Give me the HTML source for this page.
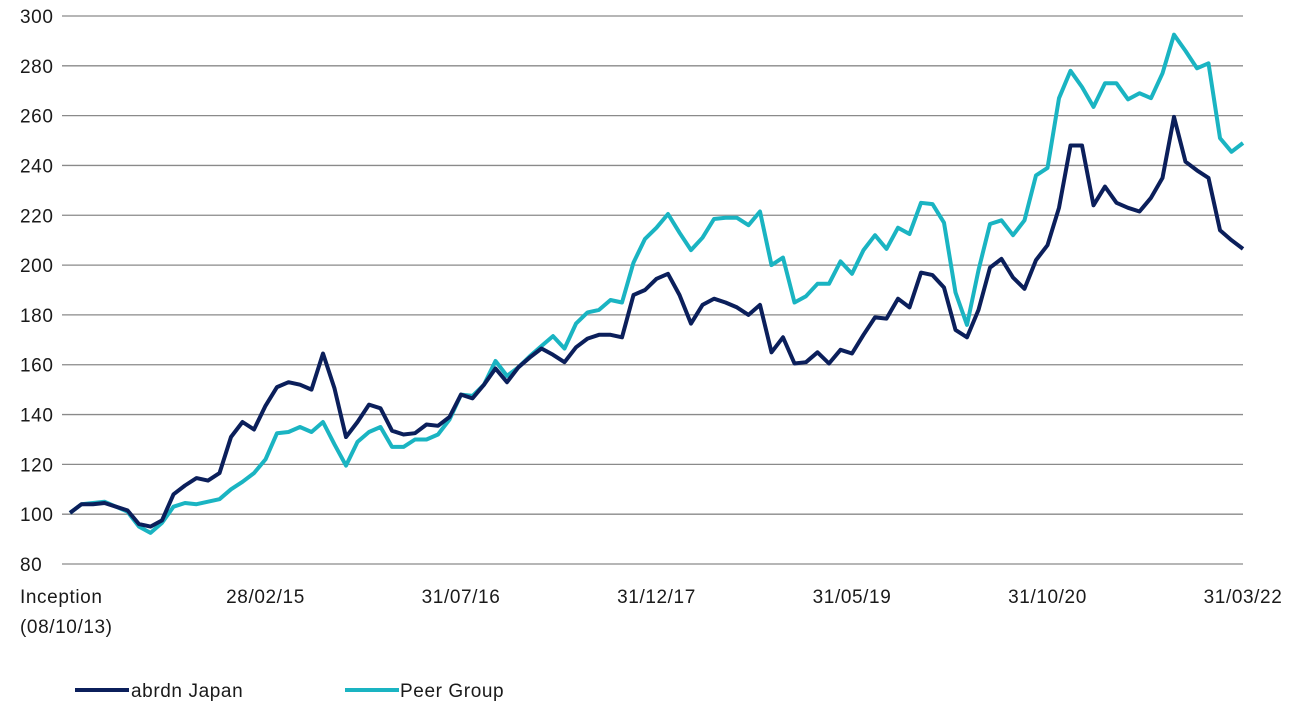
<!DOCTYPE html>
<html><head><meta charset="utf-8"><style>
body{margin:0;background:#fff;}
svg text{font-family:"Liberation Sans",sans-serif;font-size:19px;letter-spacing:0.6px;fill:#1a1a1a;}
</style></head><body>
<svg id="chart" width="1294" height="701" viewBox="0 0 1294 701" xmlns="http://www.w3.org/2000/svg">
<g id="grid"></g>
<g id="yticks"></g>
<g id="xticks"></g>
<g id="series"></g>
<g>
<line x1="75" y1="690" x2="129" y2="690" stroke="#0b1f5b" stroke-width="4"/>
<text x="131" y="697">abrdn Japan</text>
<line x1="345" y1="690" x2="399" y2="690" stroke="#1ab4c2" stroke-width="4"/>
<text x="400" y="697">Peer Group</text>
</g>
</svg>
<script>
const yTicks=[80,100,120,140,160,180,200,220,240,260,280,300];
const xLabels=["Inception","28/02/15","31/07/16","31/12/17","31/05/19","31/10/20","31/03/22"];
const xLabelIdx=[0,17,34,51,68,85,102];
const abrdnJapan=[100.5,104,104,104.5,103,101.5,96,95,97.5,108,111.5,114.5,113.5,116.5,131,137,134,143.5,151,153,152,150,164.5,150.5,131,137,144,142.5,133.5,132,132.5,136,135.5,139,148,
146.5,152,158.5,153,159,163,166.5,164,161,167,170.5,172,172,171,188,190,194.5,196.5,188,176.5,184,186.5,185,183,180,184,165,171,160.5,161,165,160.5,166,164.5,
172,179,178.5,186.5,183,197,196,191,174,171,182,199,202.5,195,190.5,202,208,223,248,248,224,231.5,225,223,221.5,227,235,259.5,241.5,238,235,214,210,206.5];
const peerGroup=[100.5,104,104.5,105,103,101,95,92.5,96.5,103,104.5,104,105,106,110,113,116.5,122,132.5,133,135,133,137,128,119.5,129,133,135,127,127,130,130,132,138,148,
147.5,152,161.5,155.5,159,163.5,167.5,171.5,166.5,176.5,181,182,186,185,201,210.5,215,220.5,213,206,211,218.5,219,219,216,221.5,200,203,185,187.5,192.5,192.5,201.5,196.5,
206,212,206.5,215,212.5,225,224.5,217,189,176,198,216.5,218,212,218,236,239,267,278,271.5,263.5,273,273,266.5,269,267,277,292.5,286,279,281,251,245.5,249];
const NS="http://www.w3.org/2000/svg";
const X0=70,X1=1243,Y0=564,Y1=16,VMIN=80,VMAX=300;
const n=abrdnJapan.length;
function xs(i){return X0+(X1-X0)*i/(n-1);}
function ys(v){return Y0-(v-VMIN)/(VMAX-VMIN)*(Y0-Y1);}
function mk(tag,attrs,parent){const e=document.createElementNS(NS,tag);for(const k in attrs)e.setAttribute(k,attrs[k]);parent.appendChild(e);return e;}
const grid=document.getElementById('grid'),yt=document.getElementById('yticks'),xt=document.getElementById('xticks'),ser=document.getElementById('series');
yTicks.forEach(v=>{
 const l=mk('line',{x1:62,x2:1243,y1:ys(v),y2:ys(v),stroke:'#8a8a8a','stroke-width':1.3},grid);
 
 
 const t=mk('text',{x:20,y:ys(v)+7},yt);t.textContent=v;
 
 
});
xLabels.forEach((s,k)=>{
 const x=xs(xLabelIdx[k]);
 const t=mk('text',{x:k===0?20:x,y:603,'text-anchor':k===0?'start':'middle'},xt);t.textContent=s;
 
 
});
const t2=mk('text',{x:20,y:633},xt);t2.textContent="(08/10/13)";


function line(data,color,name){
 const d=data.map((v,i)=>(i?'L':'M')+xs(i).toFixed(1)+','+ys(v).toFixed(1)).join('');
 const p=mk('path',{d:d,fill:'none',stroke:color,'stroke-width':4,'stroke-linejoin':'round'},ser);
 
 
}
line(peerGroup,'#1ab4c2','peer-group-line');
line(abrdnJapan,'#0b1f5b','abrdn-japan-line');
</script>
</body></html>
